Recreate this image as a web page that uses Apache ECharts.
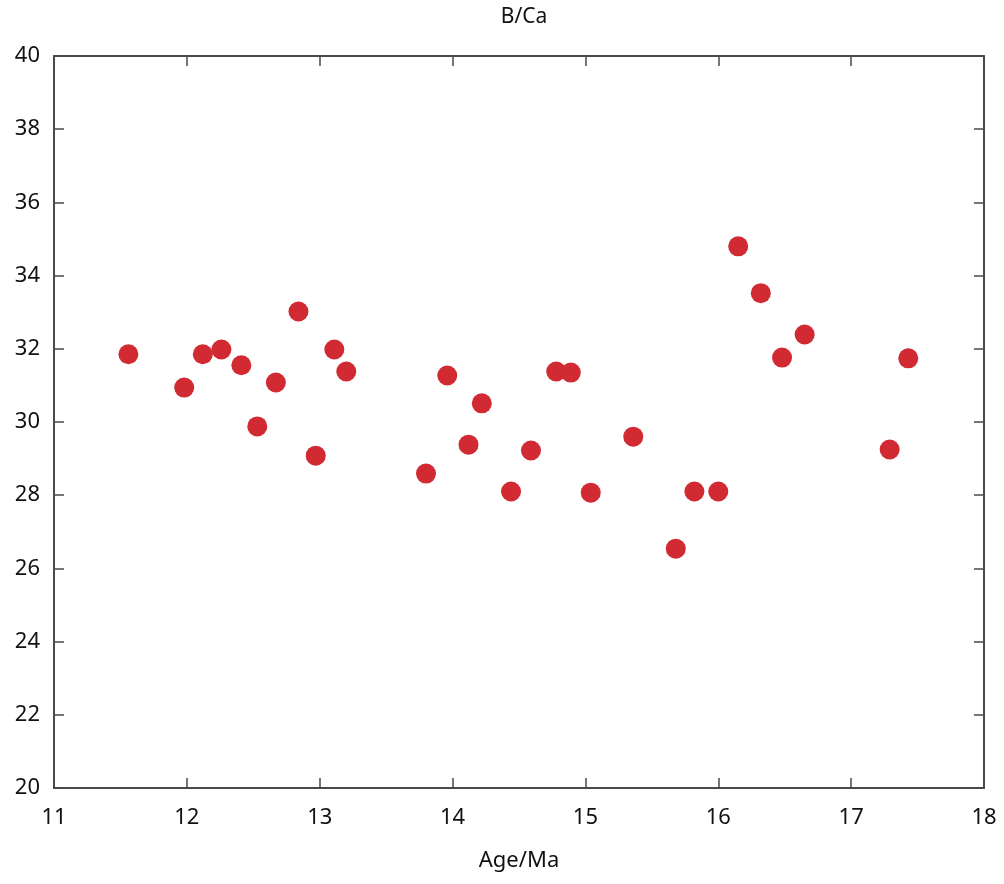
<!DOCTYPE html>
<html><head><meta charset="utf-8">
<script src="https://cdn.jsdelivr.net/npm/echarts@6/dist/echarts.min.js"></script>
<style>html,body{margin:0;padding:0;background:#fff}#c{width:1004px;height:884px}</style>
</head><body><div id="c"></div>
<script>
const ages = [11.56,11.98,12.12,12.26,12.41,12.53,12.67,12.84,12.97,13.11,13.20,13.80,13.96,14.12,14.22,14.44,14.59,14.78,14.89,15.04,15.36,15.68,15.82,16.00,16.15,16.32,16.48,16.65,17.29,17.43];
const bca = [31.85,30.94,31.85,31.98,31.55,29.88,31.08,33.02,29.08,31.98,31.38,28.59,31.27,29.38,30.51,28.10,29.22,31.38,31.35,28.07,29.60,26.54,28.10,28.10,34.80,33.52,31.76,32.39,29.25,31.74];
const xTicks = [11,12,13,14,15,16,17,18];
const yTicks = [20,22,24,26,28,30,32,34,36,38,40];

const font = 'Noto Sans';
const lineC = '#4a4a4a';
const base = {
  axisLine:{show:true,lineStyle:{color:lineC,width:2}},
  axisTick:{show:true,inside:true,length:10,lineStyle:{color:lineC,width:1.5}},
  splitLine:{show:false}
};
const chart = echarts.init(document.getElementById('c'), null, {renderer:'canvas'});
chart.setOption({
  animation:false,
  backgroundColor:'#fff',
  title:{text:'B/Ca',left:519,textAlign:'center',top:2,textStyle:{fontFamily:font,fontSize:21,fontWeight:'normal',color:'#111'}},
  grid:{left:54,right:20,top:56,bottom:96},
  xAxis:[
    Object.assign({type:'value',min:xTicks[0],max:xTicks[xTicks.length-1],interval:1,position:'bottom',
      name:'Age/Ma',nameLocation:'middle',nameGap:62,
      nameTextStyle:{fontFamily:font,fontSize:22,color:'#111'},
      axisLabel:{fontFamily:font,fontSize:22,color:'#111',margin:19}},base),
    Object.assign({type:'value',min:xTicks[0],max:xTicks[xTicks.length-1],interval:1,position:'top',
      axisLabel:{show:false}},base)
  ],
  yAxis:[
    Object.assign({type:'value',min:yTicks[0],max:yTicks[yTicks.length-1],interval:2,position:'left',
      axisLabel:{fontFamily:font,fontSize:22,color:'#111',margin:14}},base),
    Object.assign({type:'value',min:yTicks[0],max:yTicks[yTicks.length-1],interval:2,position:'right',
      axisLabel:{show:false}},base)
  ],
  series:[{
    type:'scatter',
    symbol:'circle',
    symbolSize:20,
    itemStyle:{color:'#d12a32',opacity:1},
    data: ages.map((a,i)=>[a,bca[i]])
  }]
});
</script></body></html>
